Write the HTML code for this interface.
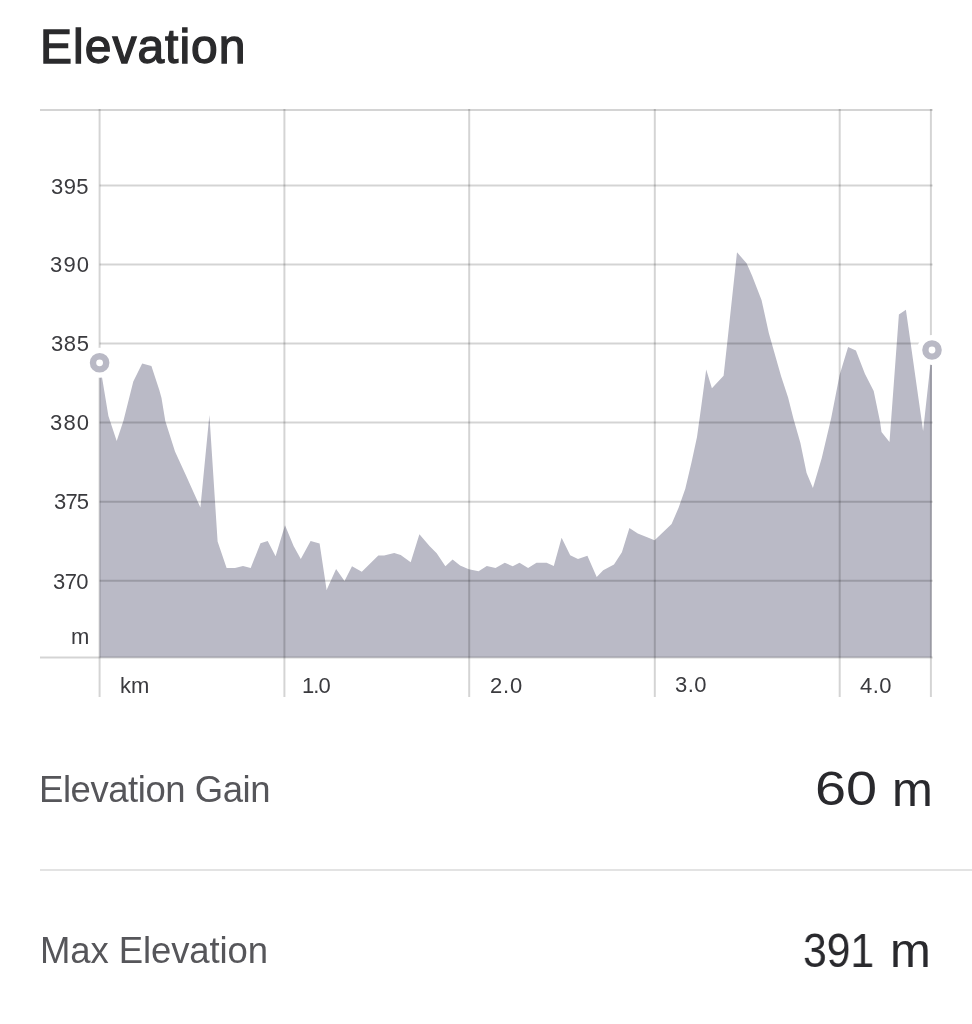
<!DOCTYPE html>
<html><head><meta charset="utf-8">
<style>
html,body{margin:0;padding:0;background:#fff;}
body{width:972px;height:1024px;position:relative;overflow:hidden;font-family:"Liberation Sans",sans-serif;}
.t{position:absolute;white-space:nowrap;line-height:1;will-change:transform;}
#div{position:absolute;left:40px;right:0;top:869px;height:2px;background:#e3e3e3;}
svg{position:absolute;left:0;top:0;}
</style></head><body>
<svg width="972" height="720" viewBox="0 0 972 720">
<polygon points="99.6,362.8 108.4,416.0 116.7,441.0 123.5,420.5 133.3,381.5 142.2,363.4 151.4,366.0 159.3,390.0 161.5,398.0 165.3,421.0 175.0,451.5 186.0,475.5 200.4,507.6 209.4,415.0 217.6,541.5 226.6,568.0 235.0,568.0 243.0,566.0 250.7,568.0 260.5,543.2 267.7,541.1 275.6,556.2 285.0,525.2 293.6,546.1 300.8,559.1 310.6,541.1 319.6,543.5 326.6,590.0 336.1,569.0 344.5,581.0 352.0,566.3 361.8,571.7 378.3,555.5 384.1,555.5 394.2,553.0 400.7,555.0 410.7,562.2 419.4,534.3 429.5,546.1 436.7,553.3 445.4,566.2 452.6,559.4 460.1,565.5 468.8,569.2 478.6,571.3 486.8,566.0 495.5,568.0 504.8,562.7 512.7,566.3 519.5,562.7 528.1,568.0 536.5,562.7 546.6,562.7 553.8,566.0 561.6,537.7 570.2,555.3 578.0,559.1 587.4,555.8 596.7,577.0 603.2,570.2 614.0,564.4 621.9,552.2 629.4,528.0 637.8,533.5 654.6,540.2 671.6,524.1 678.7,507.5 685.3,488.8 691.6,462.0 697.0,436.9 701.2,406.8 706.2,369.6 711.9,388.3 723.6,375.8 727.4,341.2 737.0,252.3 746.6,263.2 752.0,275.5 761.6,300.2 768.8,333.0 781.1,376.3 788.1,397.4 793.4,418.5 800.4,443.0 806.6,473.0 812.9,488.0 821.7,458.2 831.2,418.0 839.6,375.0 848.1,347.0 855.9,350.5 865.0,374.0 873.7,391.0 880.0,421.4 881.5,432.0 889.5,442.0 898.9,314.5 905.9,309.8 923.1,430.9 932.0,350.0 931.6,657.5 99.6,657.5" fill="#babac6"/>
<g stroke="rgba(0,0,0,0.17)" stroke-width="2">
<line x1="40" y1="110" x2="932.6" y2="110"/>
<line x1="99.6" y1="185.4" x2="932.6" y2="185.4"/>
<line x1="99.6" y1="264.5" x2="932.6" y2="264.5"/>
<line x1="99.6" y1="343.6" x2="932.6" y2="343.6"/>
<line x1="99.6" y1="422.6" x2="932.6" y2="422.6"/>
<line x1="99.6" y1="501.7" x2="932.6" y2="501.7"/>
<line x1="99.6" y1="580.8" x2="932.6" y2="580.8"/>
<line x1="40" y1="657.5" x2="932.6" y2="657.5"/>
<line x1="99.6" y1="109" x2="99.6" y2="697"/>
<line x1="284.4" y1="109" x2="284.4" y2="697"/>
<line x1="469.2" y1="109" x2="469.2" y2="697"/>
<line x1="654.8" y1="109" x2="654.8" y2="697"/>
<line x1="839.7" y1="109" x2="839.7" y2="697"/>
<line x1="930.9" y1="109" x2="930.9" y2="697"/>
</g>
<circle cx="99.6" cy="362.8" r="15" fill="#fff"/><circle cx="99.6" cy="362.8" r="6.6" fill="none" stroke="#b9b9c5" stroke-width="6.4"/>
<circle cx="932" cy="350" r="15" fill="#fff"/><circle cx="932" cy="350" r="6.6" fill="none" stroke="#b9b9c5" stroke-width="6.4"/>
</svg>
<div class="t" id="title" style="left:39.60px;top:22.90px;font-size:48px;font-weight:normal;color:#2a2a2c;-webkit-text-stroke:1.3px #2a2a2c;letter-spacing:1.0px;">Elevation</div>
<div class="t" id="y395" style="left:50.95px;top:175.50px;font-size:22px;font-weight:normal;color:#3a3a3e;letter-spacing:0.4px;">395</div>
<div class="t" id="y390" style="left:49.85px;top:254.35px;font-size:22px;font-weight:normal;color:#3a3a3e;letter-spacing:1.2px;">390</div>
<div class="t" id="y385" style="left:50.85px;top:332.70px;font-size:22px;font-weight:normal;color:#3a3a3e;letter-spacing:0.6px;">385</div>
<div class="t" id="y380" style="left:49.70px;top:411.70px;font-size:22px;font-weight:normal;color:#3a3a3e;letter-spacing:1.2px;">380</div>
<div class="t" id="y375" style="left:54.15px;top:491.40px;font-size:22px;font-weight:normal;color:#3a3a3e;letter-spacing:-0.8px;">375</div>
<div class="t" id="y370" style="left:52.80px;top:571.15px;font-size:22px;font-weight:normal;color:#3a3a3e;letter-spacing:-0.6px;">370</div>
<div class="t" id="ym" style="left:70.80px;top:625.95px;font-size:22px;font-weight:normal;color:#3a3a3e;">m</div>
<div class="t" id="km" style="left:119.70px;top:675.10px;font-size:22px;font-weight:normal;color:#3a3a3e;">km</div>
<div class="t" id="x1" style="left:302.40px;top:674.70px;font-size:22px;font-weight:normal;color:#3a3a3e;letter-spacing:-0.9px;">1.0</div>
<div class="t" id="x2" style="left:489.50px;top:674.70px;font-size:22px;font-weight:normal;color:#3a3a3e;letter-spacing:0.8px;">2.0</div>
<div class="t" id="x3" style="left:675.00px;top:674.20px;font-size:22px;font-weight:normal;color:#3a3a3e;letter-spacing:0.4px;">3.0</div>
<div class="t" id="x4" style="left:859.90px;top:675.10px;font-size:22px;font-weight:normal;color:#3a3a3e;letter-spacing:0.4px;">4.0</div>
<div class="t" id="gain" style="left:39.40px;top:772.20px;font-size:36.5px;font-weight:normal;color:#56565a;letter-spacing:-0.45px;">Elevation Gain</div>
<div class="t" id="v60a" style="left:815.45px;top:764.25px;font-size:49px;font-weight:normal;color:#29292d;transform:scaleX(1.14);transform-origin:0 0;">60</div>
<div class="t" id="v60b" style="left:891.55px;top:764.65px;font-size:49px;font-weight:normal;color:#29292d;">m</div>
<div class="t" id="max" style="left:39.50px;top:933.20px;font-size:36.5px;font-weight:normal;color:#56565a;letter-spacing:-0.1px;">Max Elevation</div>
<div class="t" id="v391a" style="left:802.80px;top:925.85px;font-size:49px;font-weight:normal;color:#29292d;transform:scaleX(0.87);transform-origin:0 0;">391</div>
<div class="t" id="v391b" style="left:890.40px;top:925.50px;font-size:49px;font-weight:normal;color:#29292d;">m</div>
<div id="div"></div>
</body></html>
